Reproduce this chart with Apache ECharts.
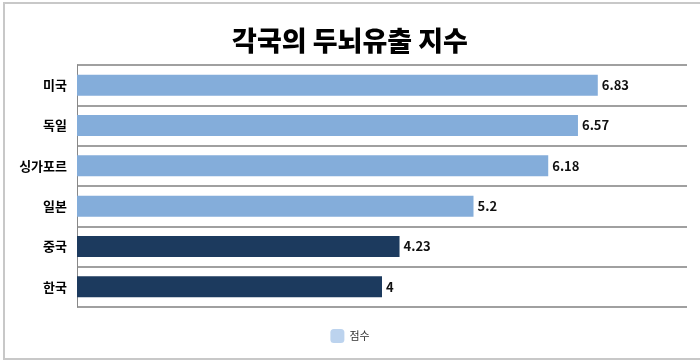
<!DOCTYPE html>
<html><head><meta charset="utf-8">
<script src="https://cdn.jsdelivr.net/npm/echarts@6/dist/echarts.min.js"></script>
<style>html,body{margin:0;padding:0;background:#fff;overflow:hidden}#c{width:700px;height:361px;position:relative}
#frame{position:absolute;left:3px;top:2px;width:720px;height:354px;border:2px solid #c8c8c8;pointer-events:none}</style>
</head><body><div id="frame"></div><div id="c"></div>
<script>
const categories = ['미국', '독일', '싱가포르', '일본', '중국', '한국'];
const scores = [6.83, 6.57, 6.18, 5.2, 4.23, 4];
const barColors = ['#84ADDA', '#84ADDA', '#84ADDA', '#84ADDA', '#1C3A5E', '#1C3A5E'];
const seriesName = '점수';
const titleText = '각국의 두뇌유출 지수';

const chart = echarts.init(document.getElementById('c'));
chart.setOption({
  animation: false,
  title: { text: titleText, left: 'center', top: 22, textStyle: { fontFamily: 'Noto Sans CJK KR', fontWeight: 900, fontSize: 27, color: '#000' } },
  legend: { bottom: 13, left: 'center', itemWidth: 14, itemHeight: 14, itemGap: 6, textStyle: { fontFamily: 'Noto Sans CJK KR', fontSize: 11, color: '#333' }, data: [{ name: seriesName, itemStyle: { color: '#BCD3EE' } }] },
  grid: { left: 77, right: 13, top: 65, bottom: 54, containLabel: false },
  xAxis: { type: 'value', min: 0, max: 8, axisLabel: { show: false }, axisLine: { show: false }, axisTick: { show: false }, splitLine: { show: false } },
  yAxis: {
    type: 'category', inverse: true, data: categories,
    axisLine: { show: true, lineStyle: { color: '#888', width: 1 } },
    axisTick: { show: false },
    axisLabel: { interval: 0, fontFamily: 'Noto Sans CJK KR', fontWeight: 'bold', fontSize: 13, color: '#000', margin: 10 },
    splitLine: { show: true, lineStyle: { color: '#a0a0a0', width: 2, type: 'solid', opacity: 1 } }
  },
  series: [{
    name: seriesName, type: 'bar', barWidth: 21,
    data: scores.map((v, i) => ({ value: v, itemStyle: { color: barColors[i] } })),
    itemStyle: { color: '#BCD3EE' },
    label: { show: true, position: 'right', distance: 4, fontFamily: 'Noto Sans CJK KR', fontWeight: 'bold', fontSize: 13, color: '#111' }
  }]
});
</script></body></html>
